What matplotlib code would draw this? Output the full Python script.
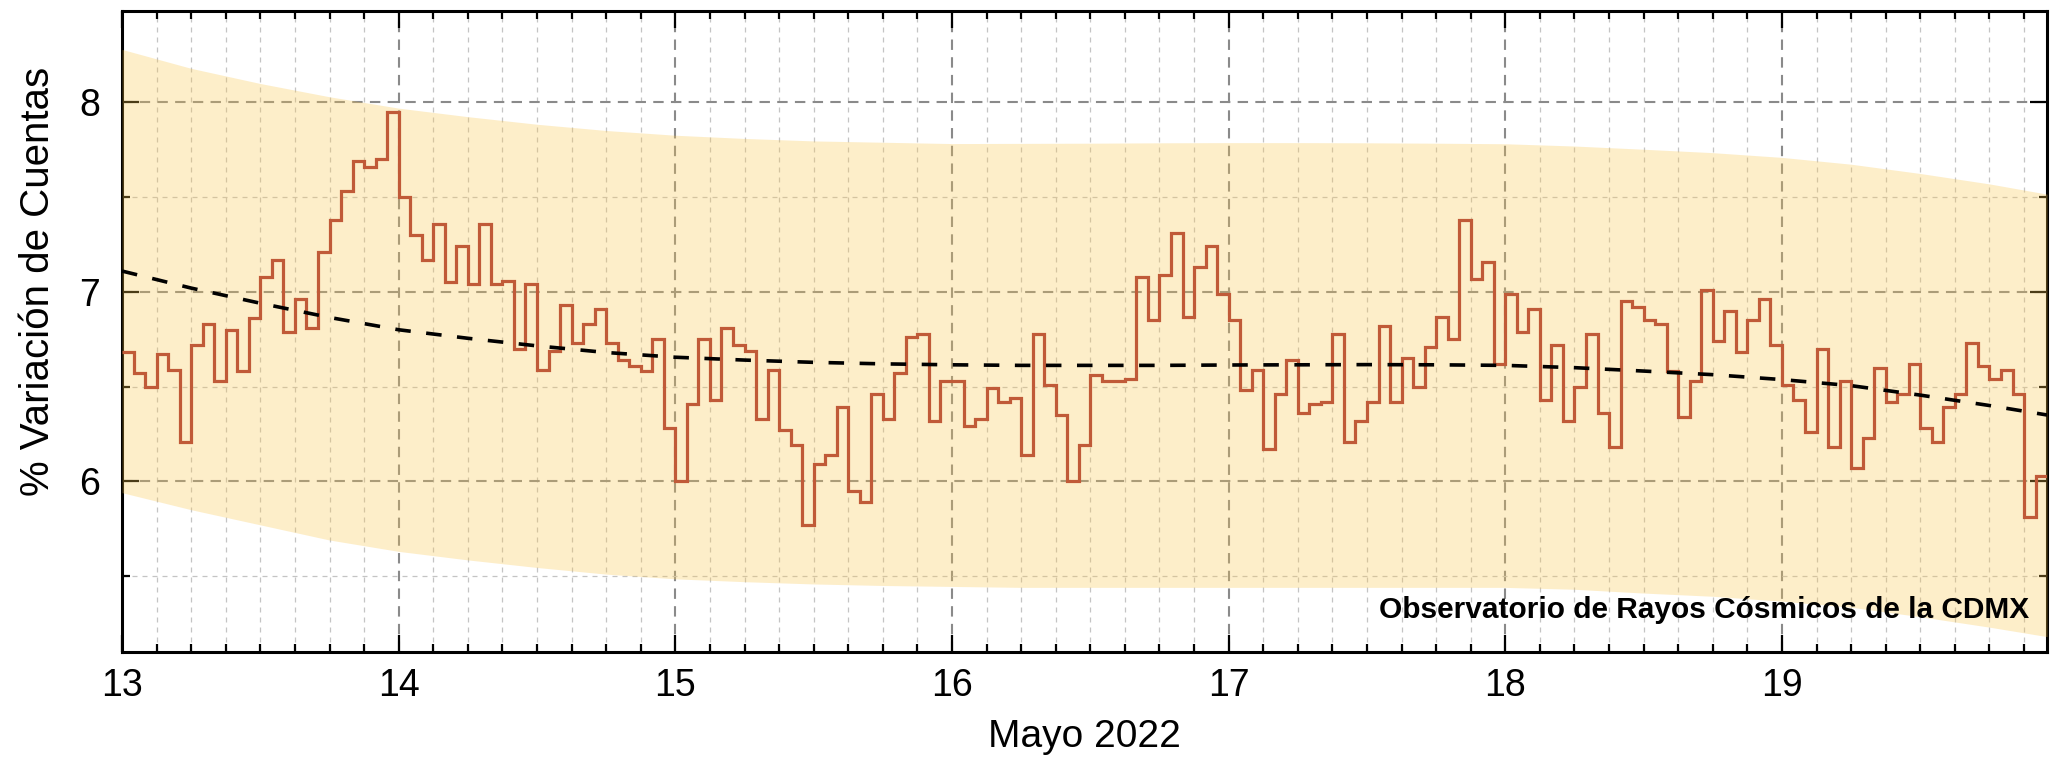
import matplotlib.pyplot as plt
import numpy as np

plt.rcParams['font.family'] = ['Liberation Sans', 'DejaVu Sans']

# hourly % variation of counts, May 13 00h .. May 19 22h
dia_13 = [6.68, 6.57, 6.50, 6.67, 6.59, 6.21, 6.72, 6.83, 6.53, 6.80, 6.58, 6.86,
          7.08, 7.17, 6.79, 6.96, 6.81, 7.21, 7.38, 7.53, 7.69, 7.66, 7.70, 7.95]
dia_14 = [7.50, 7.30, 7.17, 7.36, 7.05, 7.24, 7.04, 7.36, 7.04, 7.06, 6.70, 7.04,
          6.59, 6.69, 6.93, 6.73, 6.83, 6.91, 6.73, 6.64, 6.61, 6.58, 6.75, 6.28]
dia_15 = [6.00, 6.41, 6.75, 6.43, 6.81, 6.72, 6.69, 6.33, 6.59, 6.27, 6.19, 5.77,
          6.09, 6.14, 6.39, 5.95, 5.89, 6.46, 6.33, 6.57, 6.76, 6.78, 6.32, 6.53]
dia_16 = [6.53, 6.29, 6.33, 6.49, 6.42, 6.44, 6.14, 6.78, 6.51, 6.35, 6.00, 6.19,
          6.56, 6.53, 6.53, 6.54, 7.08, 6.85, 7.09, 7.31, 6.87, 7.13, 7.24, 6.99]
dia_17 = [6.85, 6.48, 6.59, 6.17, 6.46, 6.64, 6.36, 6.41, 6.42, 6.78, 6.21, 6.32,
          6.42, 6.82, 6.42, 6.65, 6.50, 6.71, 6.87, 6.75, 7.38, 7.07, 7.16, 6.62]
dia_18 = [6.99, 6.79, 6.91, 6.43, 6.72, 6.32, 6.50, 6.78, 6.36, 6.18, 6.95, 6.92,
          6.85, 6.83, 6.58, 6.34, 6.53, 7.01, 6.74, 6.90, 6.68, 6.85, 6.96, 6.72]
dia_19 = [6.51, 6.43, 6.26, 6.70, 6.18, 6.53, 6.07, 6.23, 6.60, 6.42, 6.46, 6.62,
          6.28, 6.21, 6.39, 6.46, 6.73, 6.61, 6.54, 6.59, 6.46, 5.81, 6.03]

# trend and band, read every 6 hours (hours since May 13 00h)
horas_banda = [0, 6, 12, 18, 24, 30, 36, 42, 48, 54, 60, 66, 72, 78, 84, 90, 96,
               102, 108, 114, 120, 126, 132, 138, 144, 150, 156, 162, 167]
tendencia = [7.11, 7.02, 6.94, 6.865, 6.80, 6.755, 6.715, 6.68, 6.655, 6.64, 6.628,
             6.62, 6.615, 6.612, 6.612, 6.612, 6.614, 6.615, 6.616, 6.615, 6.612,
             6.60, 6.582, 6.563, 6.537, 6.505, 6.455, 6.40, 6.35]
banda_sup = [8.28, 8.18, 8.10, 8.03, 7.97, 7.925, 7.885, 7.852, 7.827, 7.81, 7.797,
             7.79, 7.783, 7.784, 7.785, 7.787, 7.788, 7.788, 7.787, 7.785, 7.782,
             7.77, 7.753, 7.735, 7.71, 7.674, 7.625, 7.57, 7.516]
banda_inf = [5.94, 5.85, 5.77, 5.69, 5.63, 5.585, 5.545, 5.51, 5.485, 5.47, 5.458,
             5.45, 5.445, 5.44, 5.44, 5.44, 5.44, 5.44, 5.44, 5.44, 5.44,
             5.43, 5.41, 5.393, 5.367, 5.335, 5.285, 5.23, 5.18]

valores = dia_13 + dia_14 + dia_15 + dia_16 + dia_17 + dia_18 + dia_19
bordes = 13 + np.arange(len(valores) + 1) / 24
t_banda = 13 + np.array(horas_banda) / 24

fig = plt.figure(figsize=(20.58, 7.57), dpi=100)
ax = fig.add_axes([0.0593, 0.139, 0.9354, 0.847])

ax.fill_between(t_banda, banda_inf, banda_sup, color=(0.98, 0.78, 0.31),
                alpha=0.3, lw=0, zorder=2.6)
ax.stairs(valores, bordes, baseline=None, color='#c05a38', lw=2.3, zorder=3)
ax.plot(t_banda, tendencia, color='k', lw=2.6, dashes=(4.3, 4.3), zorder=4)

ax.set_xlim(13, bordes[-1])
ax.set_ylim(5.1, 8.485)
ax.set_xticks(range(13, 20))
ax.set_xticks(13 + np.arange(0, 168, 3) / 24, minor=True)
ax.set_yticks([6, 7, 8])
ax.set_yticks([5.5, 6.5, 7.5], minor=True)

ax.grid(which='major', color='#8a8a8a', lw=1.5, dashes=(5, 3.5))
ax.grid(which='minor', color='#c4c4c4', lw=0.9, dashes=(4, 4))
ax.set_axisbelow(True)

ax.tick_params(which='both', direction='in', top=True, right=True, width=1.6)
ax.tick_params(which='major', length=12, labelsize=27)
ax.tick_params(which='minor', length=6)
ax.tick_params(axis='x', pad=12)
ax.tick_params(axis='y', pad=16)
for s in ax.spines.values():
    s.set_linewidth(2.2)

ax.set_xlabel('Mayo 2022', fontsize=28)
ax.set_ylabel('% Variación de Cuentas', fontsize=29)
ax.xaxis.set_label_coords(0.5, -0.105)
ax.yaxis.set_label_coords(-0.034, 0.577)

ax.text(0.9906, 0.0655, 'Observatorio de Rayos Cósmicos de la CDMX',
        transform=ax.transAxes, ha='right', va='center', fontsize=21.5,
        fontweight='bold', zorder=5)

fig.savefig('out.png', dpi=100)
